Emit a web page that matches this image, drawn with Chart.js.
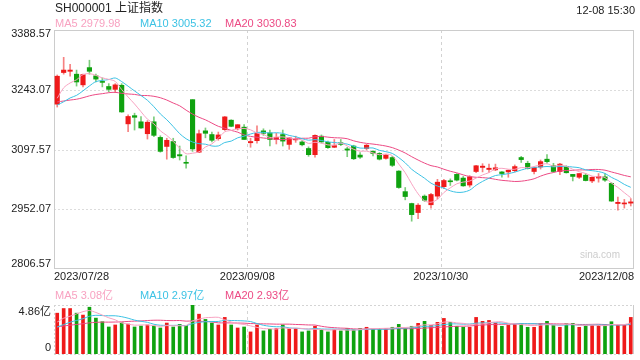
<!DOCTYPE html>
<html lang="zh">
<head>
<meta charset="UTF-8">
<title>SH000001 上证指数</title>
<script src="https://cdn.jsdelivr.net/npm/chart.js@4.4.1/dist/chart.umd.min.js"></script>
<style>
  html, body { margin: 0; padding: 0; background: #fff; }
  body {
    width: 640px; height: 360px; position: relative; overflow: hidden;
    font-family: Arial, "Liberation Sans", "Noto Sans CJK SC", sans-serif;
    color: #333;
  }
  canvas { position: absolute; left: 0; top: 0; }
  .txt { position: absolute; white-space: nowrap; font-size: 11px; line-height: 11px; }
</style>
</head>
<body>
<canvas id="kline" width="640" height="360"></canvas>
<canvas id="vol" width="640" height="360"></canvas>
<div class="txt" style="left:55px;top:2px;font-size:12px;line-height:12px;color:#222">SH000001 上证指数</div>
<div class="txt" style="right:5px;top:5px;color:#222">12-08 15:30</div>
<div id="maLegend"></div>
<div id="volLegend"></div>

<script>
// trading days shown on the chart
const dates = [
  '2023/07/28','2023/07/31',
  '2023/08/01','2023/08/02','2023/08/03','2023/08/04','2023/08/07','2023/08/08','2023/08/09','2023/08/10',
  '2023/08/11','2023/08/14','2023/08/15','2023/08/16','2023/08/17','2023/08/18','2023/08/21','2023/08/22',
  '2023/08/23','2023/08/24','2023/08/25','2023/08/28','2023/08/29','2023/08/30','2023/08/31',
  '2023/09/01','2023/09/04','2023/09/05','2023/09/06','2023/09/07','2023/09/08','2023/09/11','2023/09/12',
  '2023/09/13','2023/09/14','2023/09/15','2023/09/18','2023/09/19','2023/09/20','2023/09/21','2023/09/22',
  '2023/09/25','2023/09/26','2023/09/27','2023/09/28',
  '2023/10/09','2023/10/10','2023/10/11','2023/10/12','2023/10/13','2023/10/16','2023/10/17','2023/10/18',
  '2023/10/19','2023/10/20','2023/10/23','2023/10/24','2023/10/25','2023/10/26','2023/10/27','2023/10/30',
  '2023/10/31',
  '2023/11/01','2023/11/02','2023/11/03','2023/11/06','2023/11/07','2023/11/08','2023/11/09','2023/11/10',
  '2023/11/13','2023/11/14','2023/11/15','2023/11/16','2023/11/17','2023/11/20','2023/11/21','2023/11/22',
  '2023/11/23','2023/11/24','2023/11/27','2023/11/28','2023/11/29','2023/11/30',
  '2023/12/01','2023/12/04','2023/12/05','2023/12/06','2023/12/07','2023/12/08'
];

const open = [
  3208,3285,3288,3281,3255,3297,3277,3263,3251,3244,
  3254,3160,3180,3165,3136,3165,3127,3105,3117,3085,
  3066,3219,3091,3143,3134,3124,3146,3169,3148,3152,
  3114,3119,3143,3138,3122,3134,3110,3121,3116,3100,
  3085,3130,3115,3103,3114,3099,3106,3084,3100,3093,
  3088,3076,3078,3045,2995,2966,2944,2984,2963,2984,
  3007,3021,3037,3028,3011,3044,3054,3049,3048,3043,
  3043,3046,3078,3064,3044,3055,3074,3058,3044,3056,
  3037,3030,3035,3021,3028,3031,3015,2966,2965,2967
];
const high = [
  3279,3322,3305,3291,3281,3315,3281,3272,3258,3258,
  3258,3182,3186,3178,3168,3177,3131,3125,3125,3106,
  3082,3219,3145,3150,3140,3140,3178,3170,3158,3158,
  3125,3155,3148,3145,3137,3145,3127,3130,3119,3104,
  3133,3133,3118,3122,3122,3103,3108,3090,3110,3095,
  3090,3086,3081,3046,3005,2967,2966,2987,2991,3025,
  3025,3026,3039,3032,3034,3059,3063,3062,3062,3044,
  3048,3060,3081,3069,3055,3072,3085,3064,3064,3058,
  3037,3039,3039,3031,3039,3039,3017,2982,2976,2978
];
const low = [
  3201,3281,3276,3252,3250,3281,3262,3250,3238,3236,
  3188,3141,3145,3149,3123,3129,3091,3074,3076,3072,
  3052,3093,3090,3126,3116,3120,3144,3153,3145,3122,
  3103,3113,3132,3106,3111,3106,3098,3115,3106,3081,
  3079,3113,3100,3102,3107,3080,3073,3076,3097,3082,
  3072,3074,3056,3003,2975,2923,2929,2971,2955,2977,
  3002,3010,3021,3008,3006,3041,3043,3042,3046,3030,
  3030,3043,3066,3050,3038,3050,3064,3042,3036,3040,
  3021,3027,3021,3017,3018,3020,2971,2950,2955,2960
];
const close = [
  3276,3291,3291,3262,3280,3288,3269,3261,3244,3255,
  3189,3178,3176,3150,3164,3132,3093,3120,3078,3082,
  3064,3099,3136,3137,3120,3133,3177,3154,3158,3122,
  3117,3137,3137,3122,3127,3118,3126,3124,3109,3085,
  3132,3116,3102,3107,3110,3096,3075,3079,3108,3088,
  3074,3084,3059,3005,2983,2939,2962,2974,2988,3018,
  3022,3019,3023,3009,3031,3058,3057,3052,3053,3039,
  3047,3056,3073,3051,3054,3068,3068,3044,3062,3041,
  3032,3039,3022,3030,3032,3023,2972,2969,2966,2970
];

// moving averages of the close, as plotted
const ma5 = [
  3222.4,3247.8,3259.6,3267.4,3280.0,3282.4,3278.0,3272.0,3268.4,3263.4,
  3243.6,3225.4,3208.4,3189.6,3171.4,3160.0,3143.0,3131.8,3117.4,3101.0,
  3087.4,3088.6,3091.8,3103.6,3111.2,3125.0,3140.6,3144.2,3148.4,3148.8,
  3145.6,3137.6,3134.2,3127.0,3128.0,3128.2,3126.0,3123.4,3120.8,3112.4,
  3115.2,3113.2,3108.8,3108.4,3113.4,3106.2,3098.0,3093.4,3093.6,3089.2,
  3084.8,3086.6,3082.6,3062.0,3041.0,3014.0,2989.6,2972.6,2969.2,2976.2,
  2992.8,3004.2,3014.0,3018.2,3020.8,3028.0,3035.6,3041.4,3050.2,3051.8,
  3049.6,3049.4,3053.6,3053.2,3056.2,3060.4,3062.8,3057.0,3059.2,3056.6,
  3049.4,3043.6,3039.2,3032.8,3031.0,3029.2,3015.8,3005.2,2992.4,2980.0
];
const ma10 = [
  3205.7,3213.8,3223.1,3229.4,3240.4,3252.4,3262.9,3265.8,3267.9,3271.7,
  3263.0,3251.7,3240.2,3229.0,3217.4,3201.8,3184.2,3170.1,3153.5,3136.2,
  3123.7,3115.8,3111.8,3110.5,3106.1,3106.2,3114.6,3118.0,3126.0,3130.0,
  3135.3,3139.1,3139.2,3137.7,3138.4,3136.9,3131.8,3128.8,3123.9,3120.2,
  3121.7,3119.6,3116.1,3114.6,3112.9,3110.7,3105.6,3101.1,3101.0,3101.3,
  3095.5,3092.3,3088.0,3077.8,3065.1,3049.4,3038.1,3027.6,3015.6,3008.6,
  3003.4,2996.9,2993.3,2993.7,2998.5,3010.4,3019.9,3027.7,3034.2,3036.3,
  3038.8,3042.5,3047.5,3051.7,3054.0,3055.0,3056.1,3055.3,3056.2,3056.4,
  3054.9,3053.2,3048.1,3046.0,3043.8,3039.3,3029.7,3022.2,3012.6,3005.5
];
const ma20 = [
  3213.4,3215.7,3218.0,3220.0,3223.7,3228.2,3231.5,3233.5,3235.9,3236.8,
  3234.4,3232.8,3231.7,3229.2,3228.9,3227.1,3223.6,3218.0,3210.7,3204.0,
  3193.4,3183.8,3176.0,3169.8,3161.8,3154.0,3149.4,3144.1,3139.8,3133.1,
  3129.5,3127.5,3125.5,3124.1,3122.3,3121.6,3123.2,3123.4,3125.0,3125.1,
  3128.5,3129.4,3127.7,3126.2,3125.7,3123.8,3118.7,3115.0,3112.5,3110.8,
  3108.6,3106.0,3102.1,3096.2,3089.0,3080.1,3071.9,3064.4,3058.3,3055.0,
  3049.5,3044.6,3040.7,3035.8,3031.8,3029.9,3029.0,3027.7,3024.9,3022.5,
  3021.1,3019.7,3020.4,3022.7,3026.3,3032.7,3038.0,3041.5,3045.2,3046.4,
  3046.9,3047.9,3047.8,3048.9,3048.9,3047.2,3042.9,3038.8,3034.4,3031.0
];

// volume in 亿
const volume = [
  4.05,4.51,4.51,4.05,3.86,4.64,3.56,3.20,2.68,2.88,
  3.10,2.97,2.68,2.78,2.88,2.78,2.58,3.07,2.68,2.94,
  2.84,4.86,3.95,3.43,3.07,2.88,3.63,2.88,2.58,2.68,
  2.19,2.88,2.29,2.45,2.52,2.88,2.52,2.52,2.19,2.29,
  2.75,2.42,2.19,2.42,2.29,2.52,2.42,2.52,2.65,2.52,
  2.52,2.52,2.65,2.94,2.52,2.75,3.04,3.24,2.84,3.14,
  3.53,3.14,2.75,2.65,2.65,3.63,3.24,3.33,3.07,2.75,
  2.84,2.94,3.00,2.65,2.65,3.00,3.24,2.84,2.65,3.00,
  3.04,2.65,2.84,2.84,2.84,2.90,3.20,2.84,2.84,3.63
];
const vma5 = [
  3.17,3.55,3.75,3.98,4.20,4.31,4.12,3.86,3.59,3.39,
  3.08,2.97,2.86,2.88,2.88,2.82,2.74,2.82,2.80,2.81,
  2.82,3.28,3.45,3.60,3.63,3.64,3.39,3.18,3.01,2.93,
  2.79,2.64,2.52,2.50,2.47,2.60,2.53,2.58,2.53,2.48,
  2.45,2.43,2.37,2.41,2.41,2.37,2.37,2.43,2.48,2.53,
  2.53,2.55,2.57,2.63,2.63,2.68,2.78,2.90,2.88,3.00,
  3.16,3.18,3.08,3.04,2.94,2.96,2.98,3.10,3.18,3.20,
  3.05,2.99,2.92,2.84,2.82,2.85,2.91,2.88,2.88,2.95,
  2.95,2.84,2.84,2.87,2.84,2.81,2.92,2.92,2.92,3.08
];
const vma10 = [
  2.68,2.92,3.15,3.33,3.50,3.74,3.84,3.81,3.79,3.79,
  3.70,3.55,3.36,3.24,3.14,2.95,2.85,2.84,2.84,2.85,
  2.82,3.01,3.14,3.20,3.22,3.23,3.34,3.32,3.31,3.28,
  3.22,3.02,2.85,2.75,2.70,2.70,2.59,2.55,2.51,2.47,
  2.53,2.48,2.47,2.47,2.45,2.41,2.40,2.40,2.45,2.47,
  2.45,2.46,2.50,2.56,2.58,2.60,2.66,2.74,2.75,2.82,
  2.92,2.98,2.99,2.96,2.97,3.06,3.08,3.09,3.11,3.07,
  3.01,2.99,3.01,3.01,3.01,2.95,2.95,2.90,2.86,2.88,
  2.90,2.87,2.86,2.88,2.89,2.88,2.88,2.88,2.90,2.96
];
const vma20 = [
  2.68,2.78,2.86,2.93,3.00,3.09,3.14,3.16,3.16,3.17,
  3.19,3.23,3.26,3.28,3.32,3.35,3.35,3.32,3.31,3.32,
  3.26,3.28,3.25,3.22,3.18,3.09,3.09,3.08,3.07,3.06,
  3.02,3.01,2.99,2.98,2.96,2.96,2.96,2.93,2.91,2.88,
  2.87,2.75,2.66,2.61,2.57,2.55,2.49,2.48,2.48,2.47,
  2.49,2.47,2.49,2.51,2.51,2.51,2.53,2.57,2.60,2.64,
  2.68,2.72,2.75,2.76,2.78,2.83,2.87,2.91,2.93,2.95,
  2.96,2.98,3.00,2.99,2.99,3.00,3.01,2.99,2.98,2.98,
  2.95,2.93,2.93,2.94,2.95,2.92,2.91,2.89,2.88,2.92
];

const priceTicks = [3388.57, 3243.07, 3097.57, 2952.07, 2806.57];
const volTicks = [4.86, 0];
const xTickLabels = ['2023/07/28', '2023/09/08', '2023/10/30', '2023/12/08'];
const maLegend = ['MA5 2979.98', 'MA10 3005.32', 'MA20 3030.83'];
const volLegend = ['MA5 3.08亿', 'MA10 2.97亿', 'MA20 2.93亿'];

const UP = '#ef1a1a', DOWN = '#0fa20f';
const UP_WICK = 'rgba(239,26,26,0.55)', DOWN_WICK = 'rgba(15,162,15,0.55)';
const MA_COLORS = ['#f8a2c1', '#3cc2e4', '#ec4a84'];
const FONT = '11px Arial, "Liberation Sans", "Noto Sans CJK SC", sans-serif';

const isUp = i => close[i] >= open[i];
const gridIdx = xTickLabels.slice(1, -1).map(l => dates.indexOf(l));

// legends as html text
function legendRow(id, texts, top) {
  const el = document.getElementById(id);
  const lefts = [55, 140, 225];
  el.innerHTML = texts.map((t, k) =>
    `<div class="txt" style="left:${lefts[k]}px;top:${top}px;color:${MA_COLORS[k]}">${t}</div>`).join('');
}
legendRow('maLegend', maLegend, 18);
legendRow('volLegend', volLegend, 290);

function hline(ctx, x1, x2, y) {
  y = Math.round(y) + 0.5;
  ctx.beginPath(); ctx.moveTo(x1, y); ctx.lineTo(x2, y); ctx.stroke();
}
function vline(ctx, x, y1, y2) {
  x = Math.round(x) + 0.5;
  ctx.beginPath(); ctx.moveTo(x, y1); ctx.lineTo(x, y2); ctx.stroke();
}
// left edge of a category slot
function edgeX(xs, i) {
  return (xs.getPixelForValue(i - 1) + xs.getPixelForValue(i)) / 2;
}

const maLine = (label, data, color) => ({
  type: 'line', label, data,
  borderColor: color, borderWidth: 1, pointRadius: 0, tension: 0.3, order: 0
});

const priceDecor = {
  id: 'priceDecor',
  beforeDatasetsDraw(chart) {
    const { ctx, chartArea: a, scales: { x, y } } = chart;
    ctx.save();
    ctx.lineWidth = 1;
    ctx.strokeStyle = '#dcdcdc';
    ctx.setLineDash([2, 2]);
    priceTicks.slice(1, -1).forEach(v => hline(ctx, a.left, a.right, y.getPixelForValue(v)));
    ctx.strokeStyle = '#d2d2d2';
    ctx.setLineDash([3, 3]);
    gridIdx.forEach(i => vline(ctx, edgeX(x, i), a.top, a.bottom));
    ctx.setLineDash([]);
    ctx.strokeStyle = '#cccccc';
    ctx.strokeRect(a.left + 0.5, a.top + 0.5, a.width - 1, a.height - 1);
    ctx.restore();
  },
  afterDraw(chart) {
    const { ctx, chartArea: a, scales: { x, y } } = chart;
    ctx.save();
    ctx.font = FONT;
    ctx.fillStyle = '#222';
    ctx.textBaseline = 'middle';
    ctx.textAlign = 'right';
    priceTicks.forEach((v, k) => {
      let py = y.getPixelForValue(v);
      if (k === 0) py += 4;
      if (k === priceTicks.length - 1) py -= 5;
      ctx.fillText(v.toFixed(2), 51, py);
    });
    const last = xTickLabels.length - 1;
    xTickLabels.forEach((lbl, k) => {
      let px;
      if (k === 0) { ctx.textAlign = 'left'; px = a.left; }
      else if (k === last) { ctx.textAlign = 'right'; px = a.right; }
      else { ctx.textAlign = 'center'; px = edgeX(x, dates.indexOf(lbl)); }
      ctx.fillText(lbl, px, a.bottom + 8);
    });
    ctx.font = '10px Arial, "Liberation Sans", sans-serif';
    ctx.fillStyle = '#cdcdcd';
    ctx.textAlign = 'right';
    ctx.fillText('sina.com', a.right - 14, a.bottom - 14);
    ctx.restore();
  }
};

const volDecor = {
  id: 'volDecor',
  beforeDatasetsDraw(chart) {
    const { ctx, chartArea: a, scales: { x } } = chart;
    ctx.save();
    ctx.lineWidth = 1;
    ctx.strokeStyle = '#d4d4d4';
    ctx.setLineDash([2, 2]);
    hline(ctx, a.left, a.right, a.top);
    hline(ctx, a.left, a.right, a.bottom);
    vline(ctx, a.left, a.top, a.bottom);
    ctx.setLineDash([3, 3]);
    gridIdx.forEach(i => vline(ctx, edgeX(x, i), a.top, a.bottom));
    ctx.setLineDash([]);
    ctx.strokeStyle = '#cccccc';
    vline(ctx, a.right - 1, a.top, a.bottom);
    ctx.restore();
  },
  afterDraw(chart) {
    const { ctx, scales: { y } } = chart;
    ctx.save();
    ctx.font = FONT;
    ctx.fillStyle = '#222';
    ctx.textBaseline = 'middle';
    ctx.textAlign = 'right';
    ctx.fillText(volTicks[0].toFixed(2) + '亿', 51, y.getPixelForValue(volTicks[0]) + 7);
    ctx.fillText(String(volTicks[1]), 51, y.getPixelForValue(volTicks[1]) - 6);
    ctx.restore();
  }
};

const baseOptions = (padding, yMin, yMax) => ({
  responsive: false,
  animation: false,
  events: [],
  layout: { padding },
  plugins: { legend: { display: false }, tooltip: { enabled: false } },
  scales: {
    x: { display: false, offset: true },
    y: { display: false, min: yMin, max: yMax }
  }
});

new Chart(document.getElementById('kline'), {
  type: 'bar',
  data: {
    labels: dates,
    datasets: [
      maLine('MA5', ma5, MA_COLORS[0]),
      maLine('MA10', ma10, MA_COLORS[1]),
      maLine('MA20', ma20, MA_COLORS[2]),
      {
        label: 'body',
        data: dates.map((_, i) => [open[i], close[i]]),
        backgroundColor: c => isUp(c.dataIndex) ? UP : DOWN,
        barThickness: 4.5, minBarLength: 1, grouped: false, order: 1
      },
      {
        label: 'wick',
        data: dates.map((_, i) => [low[i], high[i]]),
        backgroundColor: c => isUp(c.dataIndex) ? UP_WICK : DOWN_WICK,
        barThickness: 1, grouped: false, order: 2
      }
    ]
  },
  options: baseOptions({ left: 54, right: 6, top: 30, bottom: 91 },
                       priceTicks[priceTicks.length - 1], priceTicks[0]),
  plugins: [priceDecor]
});

new Chart(document.getElementById('vol'), {
  type: 'bar',
  data: {
    labels: dates,
    datasets: [
      maLine('MA5', vma5, MA_COLORS[0]),
      maLine('MA10', vma10, MA_COLORS[1]),
      maLine('MA20', vma20, MA_COLORS[2]),
      {
        label: 'volume',
        data: volume,
        backgroundColor: c => isUp(c.dataIndex) ? UP : DOWN,
        barThickness: 3, grouped: false, order: 1
      }
    ]
  },
  options: baseOptions({ left: 54, right: 6, top: 305, bottom: 6 }, volTicks[1], volTicks[0]),
  plugins: [volDecor]
});
</script>
</body>
</html>
